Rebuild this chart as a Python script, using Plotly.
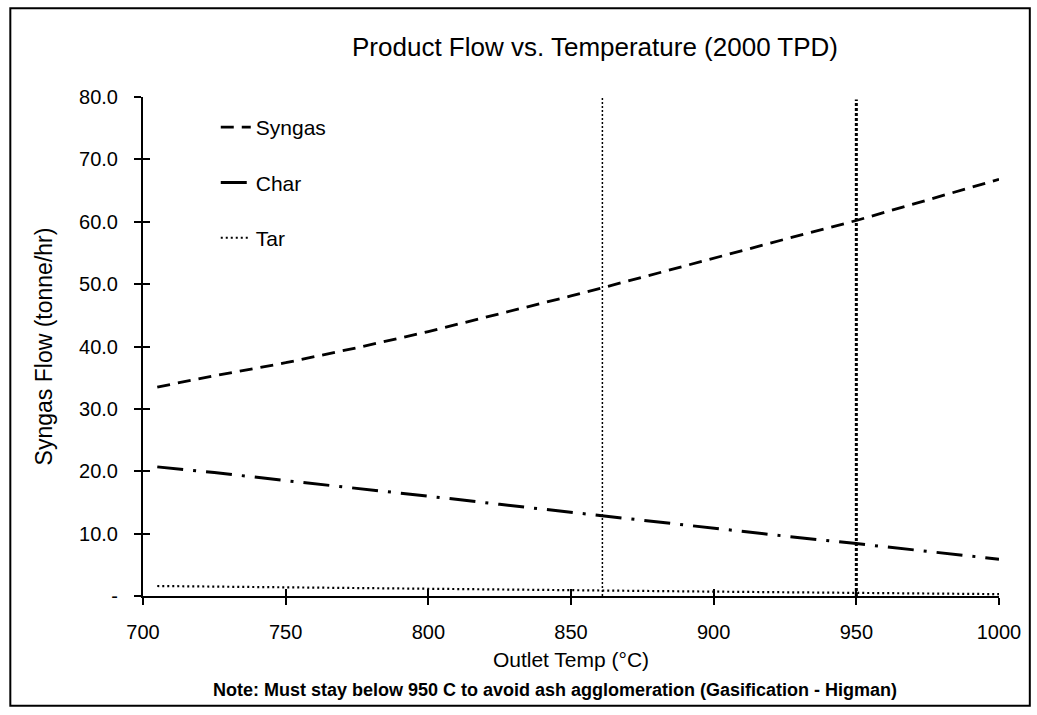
import plotly.graph_objects as go

# Data
temp = [705, 725, 750, 775, 800, 825, 850, 875, 900, 925, 950, 975, 1000]
syngas = [33.5, 35.3, 37.4, 39.8, 42.4, 45.2, 48.1, 51.1, 54.2, 57.2, 60.2, 63.5, 66.8]
char = [20.7, 19.8, 18.5, 17.3, 16.0, 14.7, 13.4, 12.1, 10.8, 9.6, 8.4, 7.2, 5.9]
tar = [1.6, 1.5, 1.35, 1.25, 1.1, 1.0, 0.9, 0.8, 0.7, 0.6, 0.5, 0.4, 0.3]

vline_temps = [861, 950]
vline_top = [80.8, 79.6]

y_tickvals = [0, 10, 20, 30, 40, 50, 60, 70, 80]
y_ticktext = ["-", "10.0", "20.0", "30.0", "40.0", "50.0", "60.0", "70.0", "80.0"]
x_tickvals = [700, 750, 800, 850, 900, 950, 1000]

FONT = "Liberation Sans, Arial, sans-serif"

fig = go.Figure()

fig.add_trace(go.Scatter(x=temp, y=syngas, mode="lines", name="Syngas",
                         legendgroup="a",
                         line=dict(color="black", width=2.8, dash="13px,8px")))
fig.add_trace(go.Scatter(x=temp, y=char, mode="lines", name="Char",
                         legendgroup="b",
                         line=dict(color="black", width=3, dash="26px,10px,3px,10px")))
fig.add_trace(go.Scatter(x=temp, y=tar, mode="lines", name="Tar",
                         legendgroup="c",
                         line=dict(color="black", width=2.2, dash="2px,3px")))

fig.add_trace(go.Scatter(x=[vline_temps[0], vline_temps[0]], y=[0, vline_top[0]],
                         mode="lines", showlegend=False, cliponaxis=False,
                         line=dict(color="black", width=1.5, dash="2px,2px")))
fig.add_trace(go.Scatter(x=[vline_temps[1], vline_temps[1]], y=[0, vline_top[1]],
                         mode="lines", showlegend=False, cliponaxis=False,
                         line=dict(color="black", width=3, dash="3px,2px")))

# invisible trace so the overlay axes (inner tick halves) are drawn
fig.add_trace(go.Scatter(x=[temp[0]], y=[syngas[0]], xaxis="x2", yaxis="y2",
                         mode="markers", marker=dict(opacity=0), showlegend=False,
                         hoverinfo="skip"))

fig.update_layout(
    width=1037, height=715,
    margin=dict(l=143, r=38, t=97, b=119),
    paper_bgcolor="white", plot_bgcolor="white",
    font=dict(family=FONT, color="black", size=20),
    showlegend=True,
    legend=dict(x=0.085, y=0.98, xanchor="left", yanchor="top",
                bgcolor="rgba(0,0,0,0)", font=dict(size=21, family=FONT),
                tracegroupgap=25, itemwidth=30),
    xaxis=dict(range=[700, 1000], tickvals=x_tickvals, showgrid=False, zeroline=False,
               showline=True, linecolor="black", linewidth=2,
               ticks="outside", ticklen=7, tickwidth=2, tickcolor="black",
               ticklabelstandoff=10,
               tickfont=dict(size=20, family=FONT),
               title=dict(text="Outlet Temp (°C)", font=dict(size=21, family=FONT), standoff=10)),
    yaxis=dict(range=[0, 80], tickvals=y_tickvals, ticktext=y_ticktext, showgrid=False,
               zeroline=False, showline=True, linecolor="black", linewidth=2,
               ticks="outside", ticklen=7, tickwidth=2, tickcolor="black",
               ticklabelstandoff=12,
               tickfont=dict(size=20, family=FONT),
               title=dict(text="Syngas Flow (tonne/hr)", font=dict(size=23, family=FONT), standoff=20)),
    xaxis2=dict(range=[700, 1000], tickvals=x_tickvals, overlaying="x", side="bottom",
                showgrid=False, zeroline=False, showline=False, showticklabels=False,
                ticks="inside", ticklen=7, tickwidth=2, tickcolor="black"),
    yaxis2=dict(range=[0, 80], tickvals=y_tickvals, overlaying="y", side="left",
                showgrid=False, zeroline=False, showline=False, showticklabels=False,
                ticks="inside", ticklen=7, tickwidth=2, tickcolor="black"),
    shapes=[dict(type="rect", xref="paper", yref="paper",
                 x0=-0.155, x1=1.036, y0=-0.22, y1=1.178,
                 line=dict(color="black", width=2), fillcolor="rgba(0,0,0,0)", layer="below")],
    annotations=[
        dict(text="Product Flow vs. Temperature (2000 TPD)", xref="paper", yref="paper",
             x=0.528, y=1.10, xanchor="center", yanchor="middle", showarrow=False,
             font=dict(size=26, family=FONT)),
        dict(text="<b>Note: Must stay below 950 C to avoid ash agglomeration (Gasification - Higman)</b>",
             xref="paper", yref="paper", x=0.481, y=-0.188, xanchor="center", yanchor="middle",
             showarrow=False, font=dict(size=18, family=FONT)),
    ],
)

fig.write_html("out.html")
